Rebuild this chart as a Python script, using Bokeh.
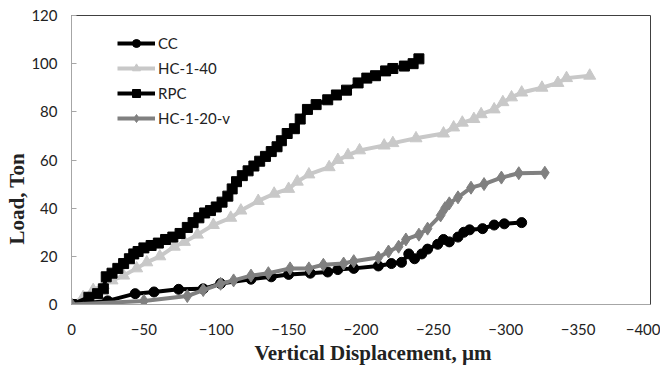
from bokeh.plotting import figure
from bokeh.models import Range1d, Legend, LegendItem, FixedTicker, Title
from bokeh.embed import file_html
from bokeh.resources import INLINE

# ---- data ----
cc_x = [0, -25, -44, -57, -74, -91, -103, -124, -138, -150, -165, -177, -184, -195,
        -212, -221, -228, -233, -237, -242, -246, -253, -257, -261, -267, -271, -275,
        -284, -292, -299, -311]
cc_y = [0, 1.5, 4.5, 5.2, 6.3, 6.5, 8.7, 10.5, 11.5, 12.5, 13, 13.5, 14.5, 15,
        16, 17, 17.5, 21, 19, 21, 23, 25, 27, 26, 28, 30, 31,
        31.5, 33, 33.5, 34]

hc40_x = [0, -8, -15, -22, -28, -36, -45, -52, -61, -71, -78, -87, -98, -110, -117,
          -129, -140, -150, -156, -164, -178, -184, -191, -199, -216, -222, -238,
          -257, -264, -270, -278, -283, -292, -298, -304, -311, -325, -336, -342, -358]
hc40_y = [0, 3, 6, 8, 10, 12, 15, 17.5, 20, 24, 26, 29, 33, 36, 39,
          43, 46, 48, 51, 54, 57, 60, 62, 64, 66, 67, 69,
          71, 73.5, 75.5, 77, 79, 81, 84, 86, 88, 90, 92, 94, 95]

rpc_x = [0, -12, -18, -22, -24, -28, -32, -36, -40, -43, -46, -50, -55, -60, -65,
         -70, -75, -80, -84, -88, -92, -96, -100, -104, -108, -111, -114, -118,
         -122, -126, -130, -134, -138, -142, -145, -149, -154, -158, -163, -169,
         -177, -183, -190, -198, -204, -210, -217, -222, -230, -236, -240]
rpc_y = [0, 3, 4.5, 6.5, 11.5, 13, 15, 17, 19, 21, 22, 23.5, 24.5, 25.5, 27,
         28, 29.5, 32, 34, 36, 38, 39, 40.5, 42.5, 45, 48, 51, 53.5,
         55.5, 57.5, 59.5, 61.5, 63.5, 65.5, 68, 71, 73, 77, 81, 83,
         85, 87, 89, 92, 94, 95, 97, 98, 99, 100, 102]

hc20_x = [0, -50, -80, -91, -103, -112, -124, -136, -151, -164, -174, -188, -195,
          -212, -219, -226, -231, -240, -246, -255, -258, -261, -267, -276, -285,
          -297, -309, -327]
hc20_y = [0, 1.5, 3.5, 6, 8.6, 10, 12, 13, 15, 15, 16.5, 17, 18,
          19.5, 22, 24, 27, 29, 31.5, 37, 40, 42, 44.5, 48.5, 50,
          52.7, 54.5, 54.7]

x_ticks = [0, -50, -100, -150, -200, -250, -300, -350, -400]
y_ticks = [0, 20, 40, 60, 80, 100, 120]

W, H = 660, 374
p = figure(width=W, height=H, output_backend="svg", toolbar_location=None,
           x_range=Range1d(0, -400), y_range=Range1d(0, 120),
           min_border_left=71, min_border_right=W - 650, min_border_top=15,
           min_border_bottom=H - 304)
p.background_fill_color = "white"
p.border_fill_color = "white"
p.outline_line_color = "#404040"
p.outline_line_width = 1
p.grid.visible = False

FONT = "Lato"
for ax in (p.xaxis[0], p.yaxis[0]):
    ax.major_label_text_font = FONT
    ax.major_label_text_font_size = "15px"
    ax.major_label_text_color = "#222222"
    ax.axis_line_color = "#a6a6a6"
    ax.minor_tick_line_color = None
    ax.major_tick_line_color = "#a6a6a6"

p.xaxis.ticker = FixedTicker(ticks=x_ticks)
p.yaxis.ticker = FixedTicker(ticks=y_ticks)
p.xaxis.major_tick_in = 0
p.xaxis.major_tick_out = 0
p.xaxis.major_label_standoff = 19
p.yaxis.major_tick_in = 5
p.yaxis.major_tick_out = 0
p.yaxis.major_label_standoff = 14

series = [
    ("CC", cc_x, cc_y, "black", "circle", 10),
    ("HC-1-40", hc40_x, hc40_y, "#c8c8c8", "triangle", 12),
    ("RPC", rpc_x, rpc_y, "black", "square", 10),
    ("HC-1-20-v", hc20_x, hc20_y, "#808080", "diamond", 13),
]
items = []
for name, xs, ys, col, mk, sz in series:
    ln = p.line(xs, ys, line_color=col, line_width=4)
    sc = p.scatter(xs, ys, marker=mk, size=sz, fill_color=col, line_color=col)
    items.append(LegendItem(label=name, renderers=[ln, sc]))

legend = Legend(items=items, location=(46, 176), orientation="vertical",
                background_fill_alpha=0, border_line_color=None,
                padding=0, margin=0, spacing=5,
                glyph_width=38, glyph_height=20, label_height=20,
                label_standoff=3,
                label_text_font=FONT, label_text_font_size="15px",
                label_text_color="#222222")
p.add_layout(legend, "center")

xt = Title(text="Vertical Displacement, µm", align="left", offset=183,
           text_font="Liberation Serif", text_font_style="bold",
           text_font_size="21px", text_color="#222222", standoff=2)
p.add_layout(xt, "below")
yt = Title(text="Load, Ton", align="left", offset=60,
           text_font="Liberation Serif", text_font_style="bold",
           text_font_size="21px", text_color="#222222", standoff=0)
p.add_layout(yt, "left")

open("out.html", "w").write(file_html(p, INLINE))
